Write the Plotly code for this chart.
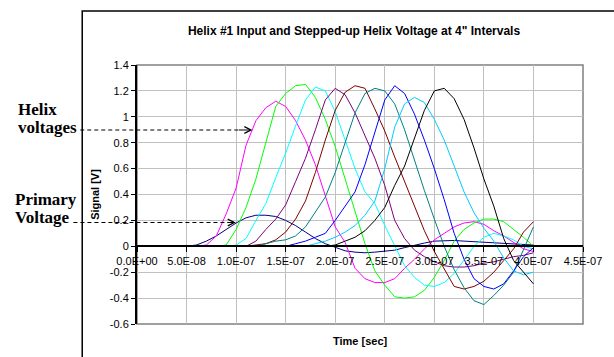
import plotly.graph_objects as go

# ---- data ----
time_ns = list(range(0, 410, 10))  # samples every 10 ns, 0..400 ns

primary = [0, 0, 0, 0, 0, 0, 0.01, 0.04, 0.08, 0.13, 0.18, 0.22, 0.24, 0.24, 0.23, 0.2, 0.16, 0.11, 0.06, 0.02,
           -0.01, -0.035, -0.045, -0.05, -0.045, -0.04, -0.03, -0.01, 0.01, 0.025, 0.04, 0.045, 0.045, 0.04, 0.035,
           0.03, 0.03, 0.025, 0.02, 0.015, 0.01]
helix_magenta = [0, 0, 0, 0, 0, 0, 0, 0.01, 0.08, 0.25, 0.45, 0.78, 0.97, 1.07, 1.12, 1.08, 0.97, 0.82, 0.63, 0.39,
                 0.15, 0.03, -0.17, -0.25, -0.28, -0.28, -0.25, -0.17, -0.1, -0.02, 0.05, 0.1, 0.15, 0.18, 0.19,
                 0.17, 0.12, 0.08, 0.03, -0.02, -0.04]
helix_green = [0, 0, 0, 0, 0, 0, 0, 0, 0, 0.01, 0.13, 0.3, 0.52, 0.8, 1.08, 1.18, 1.24, 1.25, 1.15, 0.98,
               0.77, 0.52, 0.27, 0.02, -0.19, -0.3, -0.39, -0.4, -0.39, -0.34, -0.24, -0.11, 0.04, 0.13, 0.18,
               0.21, 0.21, 0.19, 0.13, 0.07, 0.0]
helix_cyan = [0, 0, 0, 0, 0, 0, 0, 0, 0, 0, 0.01, 0.06, 0.2, 0.33, 0.53, 0.72, 0.93, 1.13, 1.23, 1.2,
              1.04, 0.82, 0.6, 0.42, 0.33, 0.16, 0.0, -0.15, -0.24, -0.3, -0.31, -0.28, -0.21, -0.1, 0.0,
              0.07, 0.1, 0.08, 0.05, 0.0, -0.02]
helix_purple = [0, 0, 0, 0, 0, 0, 0, 0, 0, 0, 0, 0, 0.04, 0.13, 0.21, 0.32, 0.5, 0.68, 0.9, 1.13,
                1.22, 1.17, 1.03, 0.86, 0.68, 0.47, 0.2, 0.06, -0.03, -0.08, -0.12, -0.15, -0.16, -0.16, -0.15,
                -0.13, -0.12, -0.1, -0.08, -0.07, -0.05]
helix_maroon = [0, 0, 0, 0, 0, 0, 0, 0, 0, 0, 0, 0, 0.01, 0.02, 0.05, 0.11, 0.21, 0.35, 0.57, 0.82,
                1.05, 1.19, 1.24, 1.22, 1.06, 0.89, 0.69, 0.5, 0.3, 0.12, -0.04, -0.18, -0.31, -0.33, -0.31,
                -0.27, -0.2, -0.11, -0.02, 0.11, 0.19]
helix_teal = [0, 0, 0, 0, 0, 0, 0, 0, 0, 0, 0, 0, 0, 0.02, 0.04, 0.05, 0.08, 0.15, 0.26, 0.38,
              0.57, 0.8, 1.03, 1.18, 1.22, 1.2, 1.1, 0.9, 0.66, 0.43, 0.21, 0.0, -0.18, -0.32, -0.42,
              -0.45, -0.38, -0.3, -0.2, -0.03, 0.15]
helix_blue = [0, 0, 0, 0, 0, 0, 0, 0, 0, 0, 0, 0, 0, 0, 0, 0, 0.02, 0.04, 0.07, 0.1,
              0.2, 0.31, 0.42, 0.63, 0.88, 1.13, 1.24, 1.18, 1.02, 0.82, 0.6, 0.36, 0.1, -0.1, -0.25,
              -0.31, -0.33, -0.29, -0.19, -0.08, -0.01]
helix_skyblue = [0, 0, 0, 0, 0, 0, 0, 0, 0, 0, 0, 0, 0, 0, 0, 0, 0, 0.0, 0.02, 0.04,
                 0.07, 0.11, 0.16, 0.24, 0.35, 0.6, 0.92, 1.1, 1.15, 1.11, 0.98, 0.82, 0.62, 0.42, 0.26,
                 0.14, 0.04, -0.09, -0.19, -0.22, -0.2]
helix_black = [0, 0, 0, 0, 0, 0, 0, 0, 0, 0, 0, 0, 0, 0, 0, 0, 0, 0, 0, 0,
               0.01, 0.04, 0.07, 0.12, 0.2, 0.3, 0.47, 0.62, 0.83, 1.05, 1.2, 1.22, 1.14, 0.98, 0.76,
               0.52, 0.31, 0.06, -0.11, -0.2, -0.29]

x_tick_vals = [0, 0.5e-7, 1.0e-7, 1.5e-7, 2.0e-7, 2.5e-7, 3.0e-7, 3.5e-7, 4.0e-7, 4.5e-7]
x_tick_text = ["0.0E+00", "5.0E-08", "1.0E-07", "1.5E-07", "2.0E-07", "2.5E-07", "3.0E-07", "3.5E-07",
               "4.0E-07", "4.5E-07"]
y_tick_vals = [-0.6, -0.4, -0.2, 0, 0.2, 0.4, 0.6, 0.8, 1.0, 1.2, 1.4]
y_tick_text = ["-0.6", "-0.4", "-0.2", "0", "0.2", "0.4", "0.6", "0.8", "1", "1.2", "1.4"]

series = [
    ("Primary", primary, "#000080"),
    ("Helix 1", helix_magenta, "#FF00FF"),
    ("Helix 2", helix_green, "#00FF00"),
    ("Helix 3", helix_cyan, "#00FFFF"),
    ("Helix 4", helix_purple, "#800080"),
    ("Helix 5", helix_maroon, "#800000"),
    ("Helix 6", helix_teal, "#008080"),
    ("Helix 7", helix_blue, "#0000FF"),
    ("Helix 8", helix_skyblue, "#00CCFF"),
    ("Helix 9", helix_black, "#000000"),
]

t_sec = [t * 1e-9 for t in time_ns]

fig = go.Figure()
for name, vals, col in series:
    fig.add_trace(go.Scatter(x=t_sec, y=vals, mode="lines", name=name,
                             line=dict(color=col, width=1)))

# plot-area geometry in pixels
L, R, T, B = 137, 21, 65, 33
W = 614 - L - R
H = 357 - T - B


def px(x):
    return (x - L) / W


def py(y):
    return (357 - B - y) / H


FONT = "Arial, Liberation Sans, sans-serif"
SERIF = "Liberation Serif, Times New Roman, serif"

fig.update_layout(
    width=614, height=357,
    margin=dict(l=L, r=R, t=T, b=B),
    paper_bgcolor="white", plot_bgcolor="white",
    showlegend=False,
    font=dict(family=FONT, size=11, color="black"),
    title=dict(text="Helix #1 Input and Stepped-up Helix Voltage at 4\" Intervals",
               x=354 / 614, xanchor="center", xref="container",
               y=1 - 31 / 357, yanchor="middle", yref="container",
               font=dict(family=FONT, size=12, color="black", weight="bold")),
    xaxis=dict(range=[0, 4.5e-7], tickvals=x_tick_vals, ticktext=x_tick_text,
               anchor="free", position=0.3,
               showline=True, linecolor="black", linewidth=1.5,
               ticks="outside", ticklen=5, tickcolor="black",
               showgrid=True, gridcolor="#c0c0c0", gridwidth=1, zeroline=False,
               tickfont=dict(family=FONT, size=11, color="black")),
    yaxis=dict(range=[-0.6, 1.4], tickvals=y_tick_vals, ticktext=y_tick_text,
               showline=True, linecolor="black", linewidth=2,
               ticks="outside", ticklen=4, tickcolor="black",
               showgrid=True, gridcolor="#c0c0c0", gridwidth=1, zeroline=False,
               tickfont=dict(family=FONT, size=11, color="black"),
               title=dict(text="Signal [V]", standoff=8,
                          font=dict(family=FONT, size=11, color="black", weight="bold"))),
)

shapes = [
    # plot-area border
    dict(type="rect", xref="paper", yref="paper", x0=0, x1=1, y0=0, y1=1,
         line=dict(color="#808080", width=1.5), layer="below"),
    # outer chart frame
    dict(type="rect", xref="paper", yref="paper", x0=px(81), x1=1.3, y0=-0.3, y1=py(11),
         line=dict(color="black", width=1.5)),
    # dashed leader lines
    dict(type="line", xref="paper", yref="paper", x0=px(79), x1=px(241), y0=py(130), y1=py(130),
         line=dict(color="black", width=1, dash="4px,3px")),
    dict(type="line", xref="paper", yref="paper", x0=px(72), x1=px(231), y0=py(222.5), y1=py(222.5),
         line=dict(color="black", width=1, dash="4px,3px")),
]
fig.update_layout(shapes=shapes)

annotations = [
    dict(text="Time [sec]", xref="paper", yref="paper", x=px(366), y=py(341), showarrow=False,
         xanchor="center", yanchor="middle",
         font=dict(family=FONT, size=11, color="black", weight="bold")),
    dict(text="Helix", xref="paper", yref="paper", x=px(13), y=py(109), showarrow=False,
         xanchor="left", yanchor="middle", font=dict(family=SERIF, size=17, color="black", weight="bold")),
    dict(text="voltages", xref="paper", yref="paper", x=px(13), y=py(127.5), showarrow=False,
         xanchor="left", yanchor="middle", font=dict(family=SERIF, size=17, color="black", weight="bold")),
    dict(text="Primary", xref="paper", yref="paper", x=px(10), y=py(199), showarrow=False,
         xanchor="left", yanchor="middle", font=dict(family=SERIF, size=17, color="black", weight="bold")),
    dict(text="Voltage", xref="paper", yref="paper", x=px(10), y=py(217.5), showarrow=False,
         xanchor="left", yanchor="middle", font=dict(family=SERIF, size=17, color="black", weight="bold")),
    dict(text="", xref="paper", yref="paper", x=px(255), y=py(130), ax=-15, ay=0,
         showarrow=True, arrowhead=5, arrowsize=1.3, arrowwidth=1, arrowcolor="black"),
    dict(text="", xref="paper", yref="paper", x=px(238), y=py(222.5), ax=-10, ay=0,
         showarrow=True, arrowhead=5, arrowsize=1.3, arrowwidth=1, arrowcolor="black"),
]
fig.update_layout(annotations=annotations)

fig.write_html("out.html", config={"displayModeBar": False},
               post_script="document.body.style.margin='0';document.body.style.padding='0';")
